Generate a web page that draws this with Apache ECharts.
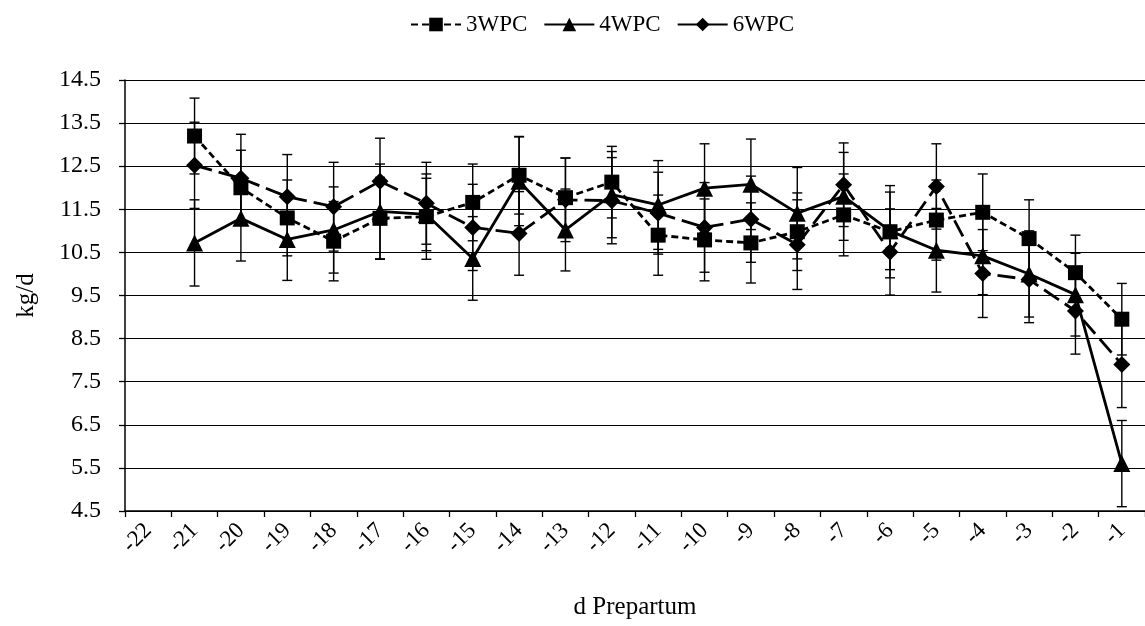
<!DOCTYPE html>
<html>
<head>
<meta charset="utf-8">
<script src="https://cdn.jsdelivr.net/npm/echarts@6/dist/echarts.min.js"></script>
<style>
  html, body { margin: 0; padding: 0; background: #fff; }
  #chart { width: 1145px; height: 626px; }
</style>
</head>
<body>
<div id="chart"></div>
<script>
// x axis categories (d prepartum)
var categories = ['-22', '-21', '-20', '-19', '-18', '-17', '-16', '-15', '-14', '-13', '-12',
  '-11', '-10', '-9', '-8', '-7', '-6', '-5', '-4', '-3', '-2', '-1'];
// days that have a measurement
var days = ['-21', '-20', '-19', '-18', '-17', '-16', '-15', '-14', '-13', '-12',
  '-11', '-10', '-9', '-8', '-7', '-6', '-5', '-4', '-3', '-2', '-1'];

// 3WPC
var wpc3 = [13.2, 12.0, 11.3, 10.76, 11.29, 11.33, 11.66, 12.29, 11.77, 12.13, 10.9,
  10.79, 10.72, 10.98, 11.37, 10.98, 11.25, 11.43, 10.82, 10.03, 8.95];
var wpc3Err = [0.88, 0.87, 0.88, 0.92, 0.95, 0.99, 0.89, 0.9, 0.92, 0.83, 0.93,
  0.95, 0.93, 0.9, 0.95, 1.07, 0.93, 0.89, 0.9, 0.87, 0.83];
// 4WPC
var wpc4 = [10.72, 11.29, 10.8, 11.02, 11.45, 11.38, 10.36, 12.15, 11.02, 11.84, 11.6,
  11.99, 12.08, 11.41, 11.8, 11.0, 10.55, 10.42, 10.0, 9.52, 5.6];
var wpc4Err = [1.0, 0.99, 0.95, 1.0, 1.1, 0.84, 0.97, 1.03, 0.95, 1.0, 1.03,
  1.03, 1.05, 1.06, 1.02, 0.9, 0.97, 0.9, 1.0, 0.96, 1.0];
// 6WPC
var wpc6 = [12.52, 12.22, 11.79, 11.56, 12.15, 11.64, 11.08, 10.94, 11.72, 11.7, 11.41,
  11.08, 11.27, 10.68, 12.07, 10.51, 12.03, 10.01, 9.87, 9.14, 7.9];
var wpc6Err = [1.0, 1.02, 0.98, 1.03, 1.0, 0.95, 1.0, 0.97, 0.97, 1.0, 0.95,
  1.04, 1.0, 1.04, 0.97, 1.0, 0.99, 1.02, 1.0, 1.0, 1.0];

var fontName = 'Liberation Serif';

function lineSeries(name, vals, symbol, size, dash) {
  return {
    name: name,
    type: 'line',
    data: days.map(function (d, i) { return [d, vals[i]]; }),
    symbol: symbol,
    symbolSize: size,
    z: 3,
    itemStyle: { color: '#000' },
    lineStyle: { color: '#000', width: 2.8, type: dash },
    animation: false
  };
}

// error bars with caps
function errSeries(vals, errs) {
  return {
    type: 'custom',
    data: days.map(function (d, i) { return [d, vals[i] - errs[i], vals[i] + errs[i]]; }),
    encode: { x: 0, y: [1, 2] },
    z: 2,
    silent: true,
    animation: false,
    renderItem: function (params, api) {
      var idx = api.value(0);
      var lo = api.coord([idx, api.value(1)]);
      var hi = api.coord([idx, api.value(2)]);
      var w = 5;
      var st = { stroke: '#000', lineWidth: 1.4 };
      return {
        type: 'group',
        children: [
          { type: 'line', shape: { x1: lo[0], y1: lo[1], x2: hi[0], y2: hi[1] }, style: st },
          { type: 'line', shape: { x1: lo[0] - w, y1: lo[1], x2: lo[0] + w, y2: lo[1] }, style: st },
          { type: 'line', shape: { x1: hi[0] - w, y1: hi[1], x2: hi[0] + w, y2: hi[1] }, style: st }
        ]
      };
    }
  };
}

var myChart = echarts.init(document.getElementById('chart'));
var option = {
  backgroundColor: '#fff',
  animation: false,
  textStyle: { fontFamily: fontName, color: '#000' },
  legend: {
    data: ['3WPC', '4WPC', { name: '6WPC', lineStyle: { type: 'solid' } }],
    left: 405,
    top: 8,
    itemWidth: 50,
    itemHeight: 17,
    itemGap: 16,
    textStyle: { fontFamily: fontName, fontSize: 23, color: '#000' }
  },
  grid: { left: 125, top: 80, right: -7, bottom: 115 },
  xAxis: {
    type: 'category',
    data: categories,
    boundaryGap: true,
    name: 'd Prepartum',
    nameLocation: 'middle',
    nameGap: 84,
    nameTextStyle: { fontFamily: fontName, fontSize: 25, color: '#000' },
    axisLine: { lineStyle: { color: '#000', width: 1.5 } },
    axisTick: { show: true, length: 6, lineStyle: { color: '#000', width: 1.3 } },
    axisLabel: { rotate: 45, margin: 16, fontFamily: fontName, fontSize: 23, color: '#000' },
    splitLine: { show: false }
  },
  yAxis: {
    type: 'value',
    min: 4.5,
    max: 14.5,
    interval: 1,
    name: 'kg/d',
    nameLocation: 'middle',
    nameGap: 86,
    nameTextStyle: { fontFamily: fontName, fontSize: 25, color: '#000' },
    axisLine: { show: true, lineStyle: { color: '#000', width: 1.5 } },
    axisTick: { show: true, length: 6, lineStyle: { color: '#000', width: 1.3 } },
    axisLabel: {
      margin: 24, fontFamily: fontName, fontSize: 24, color: '#000',
      formatter: function (v) { return v.toFixed(1); }
    },
    splitLine: { show: true, lineStyle: { color: '#000', width: 1.2 } }
  },
  series: [
    errSeries(wpc3, wpc3Err),
    errSeries(wpc4, wpc4Err),
    errSeries(wpc6, wpc6Err),
    lineSeries('3WPC', wpc3, 'rect', 15, [7, 4]),
    lineSeries('4WPC', wpc4, 'triangle', 17, 'solid'),
    lineSeries('6WPC', wpc6, 'diamond', 17, [18, 7])
  ]
};
myChart.setOption(option);
</script>
</body>
</html>
